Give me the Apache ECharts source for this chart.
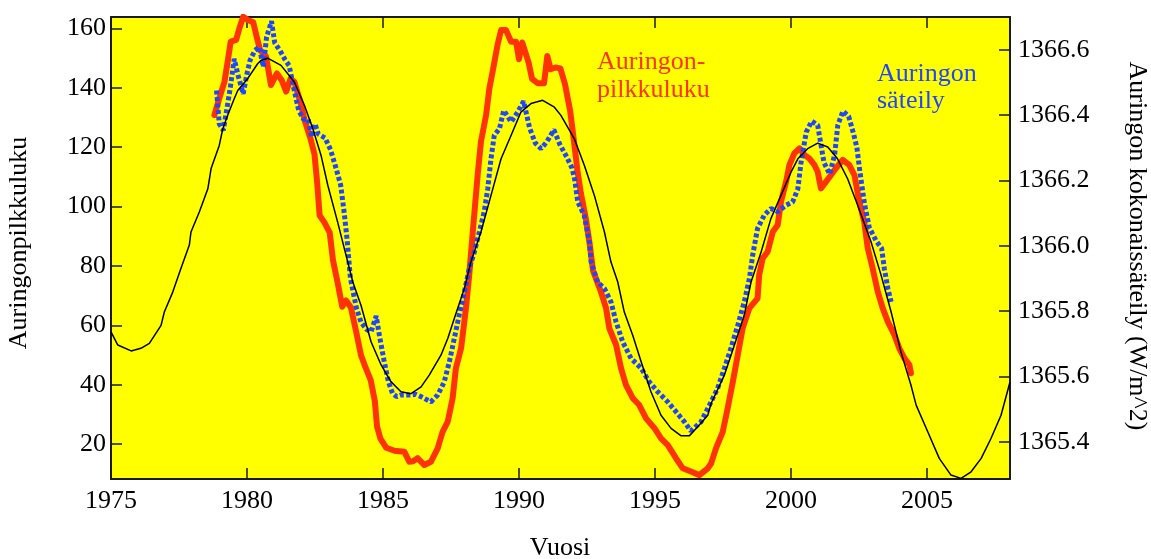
<!DOCTYPE html>
<html>
<head>
<meta charset="utf-8">
<script src="https://cdn.jsdelivr.net/npm/echarts@6/dist/echarts.min.js"></script>
<style>
html,body{margin:0;padding:0;background:#fff;}
#chart{width:1151px;height:559px;}
</style>
</head>
<body>
<div id="chart"></div>
<script>
// ---- Data ----
const xTicks = [1975, 1980, 1985, 1990, 1995, 2000, 2005];
const leftTicks = [20, 40, 60, 80, 100, 120, 140, 160];
const rightTicks = [1365.4, 1365.6, 1365.8, 1366.0, 1366.2, 1366.4, 1366.6];

// Sunspot number (left axis)
const redYears = [
  1978.80,1978.98,1979.17,1979.29,1979.40,1979.60,1979.72,1979.86,1980.03,1980.23,
  1980.36,1980.48,1980.70,1980.88,1981.10,1981.27,1981.44,1981.60,1981.74,1981.95,
  1982.12,1982.33,1982.48,1982.58,1982.67,1982.85,1983.04,1983.16,1983.34,1983.50,
  1983.64,1983.82,1984.01,1984.19,1984.35,1984.55,1984.70,1984.78,1984.90,1985.12,
  1985.42,1985.78,1985.97,1986.10,1986.27,1986.52,1986.76,1987.01,1987.19,1987.38,
  1987.56,1987.68,1987.87,1988.05,1988.17,1988.30,1988.48,1988.60,1988.79,1988.91,
  1989.03,1989.21,1989.34,1989.52,1989.71,1989.89,1990.00,1990.12,1990.35,1990.48,
  1990.69,1990.92,1991.04,1991.16,1991.34,1991.52,1991.69,1991.88,1992.02,1992.15,
  1992.27,1992.45,1992.60,1992.72,1993.01,1993.20,1993.32,1993.57,1993.75,1993.93,
  1994.18,1994.42,1994.67,1994.98,1995.22,1995.47,1995.77,1996.02,1996.32,1996.63,
  1996.94,1997.06,1997.24,1997.49,1997.67,1997.86,1998.04,1998.22,1998.47,1998.77,
  1998.83,1998.96,1999.14,1999.33,1999.51,1999.63,1999.82,1999.94,2000.12,2000.31,
  2000.49,2000.67,2000.86,2000.98,2001.10,2001.29,2001.47,2001.65,2001.90,2002.14,
  2002.33,2002.51,2002.69,2002.82,2003.00,2003.19,2003.37,2003.56,2003.80,2003.98,
  2004.17,2004.35,2004.41
];
const redValues = [
  130.8,136.4,142.0,148.8,155.5,156.1,160.0,163.9,162.8,162.0,
  157.0,152.7,150.5,140.9,144.8,142.6,138.7,143.0,142.0,135.6,
  129.0,123.0,117.6,108.0,97.0,94.6,91.2,82.0,74.0,66.3,
  68.4,66.0,58.0,50.0,46.0,41.5,34.5,26.0,22.0,18.8,
  17.8,17.5,14.1,14.3,15.3,13.0,14.1,18.6,24.2,27.6,
  35.5,45.6,52.3,65.8,77.0,91.5,110.6,121.8,130.8,139.8,
  145.4,154.4,159.4,159.4,155.5,155.5,149.6,155.2,148.5,143.0,
  141.5,141.5,150.7,146.2,146.8,146.5,141.2,132.2,122.0,112.0,
  104.7,96.3,87.3,78.4,71.3,65.8,59.0,53.4,45.6,40.0,
  35.5,33.2,28.7,25.4,22.0,19.7,15.3,11.9,10.8,9.6,
  11.9,13.5,18.6,24.2,32.1,41.0,50.0,59.0,65.8,69.1,
  77.0,82.6,84.8,91.5,93.8,101.6,108.4,114.0,117.9,119.6,
  117.4,116.2,114.0,111.7,106.1,108.4,110.6,112.9,115.7,114.0,
  110.6,101.6,94.9,86.0,79.2,71.3,65.8,61.2,56.8,52.3,
  48.9,46.7,43.9
];

// Total solar irradiance (right axis, W/m^2)
const blueYears = [
  1978.88,1978.98,1979.13,1979.25,1979.37,1979.53,1979.68,1979.86,1979.99,1980.11,
  1980.29,1980.45,1980.60,1980.72,1980.90,1981.02,1981.22,1981.40,1981.55,1981.72,
  1981.90,1982.08,1982.25,1982.38,1982.50,1982.62,1982.87,1983.07,1983.25,1983.44,
  1983.56,1983.68,1983.80,1984.02,1984.19,1984.39,1984.56,1984.75,1984.87,1985.03,
  1985.20,1985.35,1985.50,1985.66,1985.97,1986.20,1986.40,1986.76,1987.01,1987.25,
  1987.44,1987.62,1987.80,1987.99,1988.17,1988.36,1988.54,1988.72,1988.85,1988.97,
  1989.09,1989.28,1989.44,1989.71,1989.95,1990.17,1990.39,1990.60,1990.81,1991.03,
  1991.28,1991.50,1991.77,1991.95,1992.05,1992.16,1992.40,1992.59,1992.65,1992.89,
  1993.14,1993.38,1993.57,1993.81,1994.12,1994.49,1994.79,1995.10,1995.47,1995.77,
  1996.08,1996.32,1996.69,1997.00,1997.30,1997.55,1997.79,1998.04,1998.28,1998.47,
  1998.59,1998.77,1999.02,1999.26,1999.51,1999.82,2000.06,2000.25,2000.37,2000.56,
  2000.76,2000.98,2001.08,2001.21,2001.42,2001.60,2001.72,2001.91,2002.12,2002.30,
  2002.42,2002.53,2002.70,2002.88,2003.13,2003.33,2003.43,2003.56,2003.68
];
const blueValues = [
  1366.475,1366.373,1366.353,1366.414,1366.475,1366.572,1366.519,1366.465,1366.523,1366.567,
  1366.598,1366.608,1366.547,1366.639,1366.687,1366.621,1366.596,1366.569,1366.551,1366.482,
  1366.414,1366.387,1366.387,1366.333,1366.373,1366.342,1366.330,1366.294,1366.244,1366.187,
  1366.110,1366.019,1365.901,1365.810,1365.766,1365.744,1365.736,1365.785,1365.724,1365.652,
  1365.583,1365.548,1365.538,1365.543,1365.543,1365.545,1365.538,1365.522,1365.543,1365.583,
  1365.645,1365.716,1365.787,1365.858,1365.930,1365.981,1366.042,1366.104,1366.174,1366.266,
  1366.338,1366.358,1366.414,1366.379,1366.409,1366.442,1366.360,1366.314,1366.297,1366.319,
  1366.355,1366.310,1366.269,1366.237,1366.201,1366.134,1366.092,1366.010,1365.950,1365.889,
  1365.869,1365.828,1365.766,1365.706,1365.655,1365.625,1365.583,1365.553,1365.522,1365.492,
  1365.461,1365.433,1365.461,1365.512,1365.563,1365.625,1365.686,1365.756,1365.828,1365.900,
  1365.971,1366.053,1366.094,1366.114,1366.104,1366.124,1366.134,1366.174,1366.256,1366.348,
  1366.381,1366.369,1366.319,1366.255,1366.219,1366.277,1366.369,1366.412,1366.396,1366.342,
  1366.301,1366.228,1366.128,1366.055,1366.015,1365.992,1365.930,1365.869,1365.828
];

// Smooth model curve (right axis, W/m^2)
const fitYears = [
  1975.00,1975.25,1975.74,1976.10,1976.41,1976.84,1976.96,1977.27,1977.57,1977.88,
  1977.94,1978.25,1978.56,1978.68,1978.98,1979.11,1979.29,1979.53,1979.66,1980.03,
  1980.39,1980.51,1980.76,1981.25,1981.74,1982.11,1982.42,1982.72,1982.97,1983.33,
  1983.64,1983.89,1984.19,1984.56,1984.93,1985.29,1985.66,1986.03,1986.40,1986.70,
  1987.13,1987.38,1987.62,1987.99,1988.23,1988.60,1988.97,1989.34,1989.71,1990.07,
  1990.44,1990.87,1991.30,1991.54,1992.03,1992.40,1992.77,1993.14,1993.38,1993.63,
  1993.87,1994.18,1994.49,1994.85,1995.22,1995.59,1995.96,1996.26,1996.57,1996.94,
  1997.06,1997.55,1997.92,1998.28,1998.53,1998.90,1999.26,1999.63,2000.00,2000.25,
  2000.61,2000.98,2001.35,2001.71,2002.08,2002.45,2002.94,2003.31,2003.68,2004.04,
  2004.41,2004.60,2005.03,2005.45,2005.88,2006.25,2006.62,2006.99,2007.35,2007.72,
  2008.05
];
const fitValues = [
  1365.736,1365.696,1365.678,1365.686,1365.701,1365.756,1365.797,1365.858,1365.930,1366.002,
  1366.042,1366.104,1366.174,1366.236,1366.307,1366.358,1366.399,1366.450,1366.475,1366.512,
  1366.557,1366.567,1366.574,1366.552,1366.501,1366.430,1366.358,1366.277,1366.185,1366.073,
  1365.971,1365.889,1365.818,1365.706,1365.635,1365.584,1365.553,1365.547,1365.568,1365.604,
  1365.665,1365.716,1365.777,1365.869,1365.950,1366.042,1366.154,1366.266,1366.338,1366.409,
  1366.435,1366.445,1366.424,1366.399,1366.328,1366.246,1366.154,1366.042,1365.950,1365.889,
  1365.797,1365.726,1365.645,1365.553,1365.481,1365.441,1365.418,1365.418,1365.446,1365.481,
  1365.517,1365.604,1365.696,1365.787,1365.889,1365.981,1366.083,1366.154,1366.225,1366.266,
  1366.297,1366.314,1366.302,1366.266,1366.205,1366.124,1366.012,1365.910,1365.797,1365.675,
  1365.573,1365.512,1365.430,1365.349,1365.298,1365.288,1365.308,1365.349,1365.410,1365.481,
  1365.583
];

// ---- Chart ----
const FONT = '"Liberation Serif", "Times New Roman", serif';
const AXIS_COLOR = '#1a1a1a';
const RED = '#ff3300';
const BLUE = '#1f46ff';

const zip = (xs, ys) => xs.map((x, i) => [x, ys[i]]);

const chart = echarts.init(document.getElementById('chart'), null, { renderer: 'canvas' });

const lineAxis = { show: true, onZero: false, lineStyle: { color: AXIS_COLOR, width: 2 } };

const option = {
  backgroundColor: '#ffffff',
  animation: false,
  grid: {
    left: 111, right: 141, top: 17, bottom: 80,
    show: true, backgroundColor: '#ffff00', borderWidth: 0
  },
  xAxis: [
    {
      type: 'value', min: 1975, max: 2008.05, position: 'bottom',
      axisLine: lineAxis,
      axisTick: { show: true, inside: true, length: 11, customValues: xTicks, lineStyle: { color: AXIS_COLOR, width: 1.5 } },
      axisLabel: { customValues: xTicks, fontFamily: FONT, fontSize: 26, color: '#000', margin: 9,
        formatter: v => String(Math.round(v)) },
      splitLine: { show: false }
    },
    {
      type: 'value', min: 1975, max: 2008.05, position: 'top',
      axisLine: lineAxis,
      axisTick: { show: true, inside: true, length: 11, customValues: xTicks, lineStyle: { color: AXIS_COLOR, width: 1.5 } },
      axisLabel: { show: false },
      splitLine: { show: false }
    }
  ],
  yAxis: [
    {
      type: 'value', min: 8.3, max: 163.8, position: 'left',
      axisLine: lineAxis,
      axisTick: { show: true, inside: true, length: 11, customValues: leftTicks, lineStyle: { color: AXIS_COLOR, width: 1.5 } },
      axisLabel: { customValues: leftTicks, fontFamily: FONT, fontSize: 26, color: '#000', margin: 5,
        formatter: v => String(Math.round(v)) },
      splitLine: { show: false }
    },
    {
      type: 'value', min: 1365.286, max: 1366.7, position: 'right',
      axisLine: lineAxis,
      axisTick: { show: true, inside: true, length: 11, customValues: rightTicks, lineStyle: { color: AXIS_COLOR, width: 1.5 } },
      axisLabel: { customValues: rightTicks, fontFamily: FONT, fontSize: 26, color: '#000', margin: 8,
        formatter: v => Number(v).toFixed(1) },
      splitLine: { show: false }
    }
  ],
  series: [
    {
      name: 'Auringonpilkkuluku', type: 'line', xAxisIndex: 0, yAxisIndex: 0,
      data: zip(redYears, redValues), showSymbol: false, symbol: 'none',
      lineStyle: { color: RED, width: 6, join: 'round', cap: 'round' }, z: 2
    },
    {
      name: 'Auringon säteily', type: 'line', xAxisIndex: 0, yAxisIndex: 1,
      data: zip(blueYears, blueValues), showSymbol: false, symbol: 'none',
      lineStyle: { color: BLUE, width: 5, type: [4, 2.5], cap: 'butt' }, z: 3
    },
    {
      name: 'Malli', type: 'line', xAxisIndex: 0, yAxisIndex: 1,
      data: zip(fitYears, fitValues), showSymbol: false, symbol: 'none',
      lineStyle: { color: '#000', width: 1.5 }, z: 4
    }
  ],
  graphic: [
    { type: 'text', x: 19, y: 243, rotation: Math.PI / 2, z: 10,
      style: { text: 'Auringonpilkkuluku', font: '26px ' + FONT, fill: '#000', align: 'center', verticalAlign: 'middle' } },
    { type: 'text', x: 1137, y: 246, rotation: -Math.PI / 2, z: 10,
      style: { text: 'Auringon kokonaissäteily (W/m^2)', font: '26px ' + FONT, fill: '#000', align: 'center', verticalAlign: 'middle' } },
    { type: 'text', x: 560, y: 548, z: 10,
      style: { text: 'Vuosi', font: '26px ' + FONT, fill: '#000', align: 'center', verticalAlign: 'middle' } },
    { type: 'text', x: 597, y: 62, z: 10,
      style: { text: 'Auringon-', font: '26px ' + FONT, fill: RED, align: 'left', verticalAlign: 'middle' } },
    { type: 'text', x: 597, y: 90, z: 10,
      style: { text: 'pilkkuluku', font: '26px ' + FONT, fill: RED, align: 'left', verticalAlign: 'middle' } },
    { type: 'text', x: 877, y: 74, z: 10,
      style: { text: 'Auringon', font: '26px ' + FONT, fill: BLUE, align: 'left', verticalAlign: 'middle' } },
    { type: 'text', x: 877, y: 101, z: 10,
      style: { text: 'säteily', font: '26px ' + FONT, fill: BLUE, align: 'left', verticalAlign: 'middle' } }
  ]
};

chart.setOption(option);
</script>
</body>
</html>
